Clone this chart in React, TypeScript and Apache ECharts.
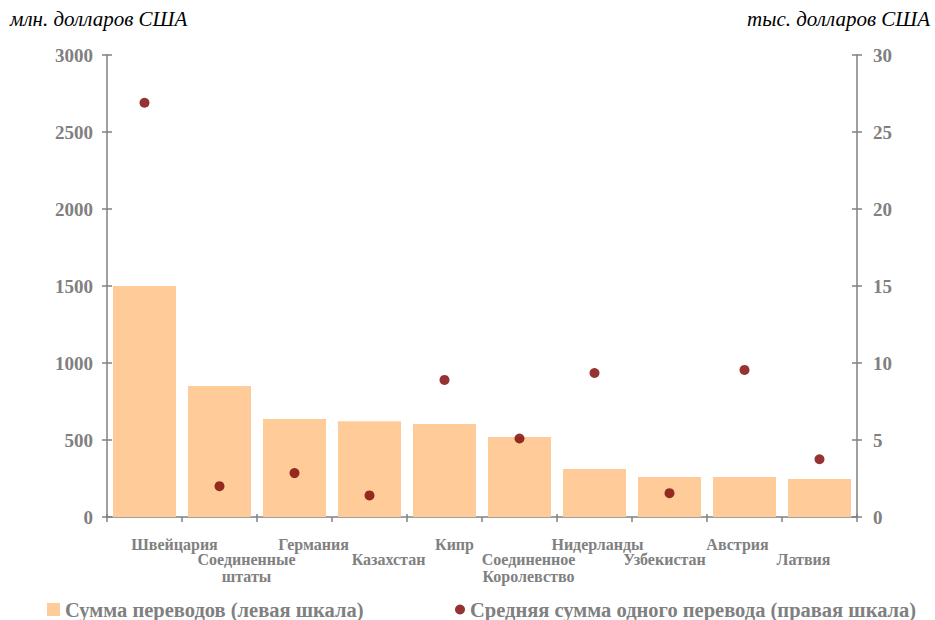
import React, { useEffect, useRef } from "react";
import * as echarts from "echarts";

const categories = [
  "Швейцария",
  "Соединенные\nштаты",
  "Германия",
  "Казахстан",
  "Кипр",
  "Соединенное\nКоролевство",
  "Нидерланды",
  "Узбекистан",
  "Австрия",
  "Латвия",
];
const transferSum = [1500, 850, 636, 622, 604, 519, 312, 260, 260, 247];
const avgTransfer = [26.9, 2.0, 2.85, 1.4, 8.9, 5.1, 9.35, 1.55, 9.55, 3.75];
const leftTicks = [0, 500, 1000, 1500, 2000, 2500, 3000];
const rightTicks = [0, 5, 10, 15, 20, 25, 30];

const seriesNames = [
  "Сумма переводов (левая шкала)",
  "Средняя сумма одного перевода (правая шкала)",
];
const unitLeft = "млн. долларов США";
const unitRight = "тыс. долларов США";

// horizontal label shifts (px) as in the reference
const labelShift = [30, 27, 19, 19, 10, 9, 3, -5, -7, -16];

const GREY = "#808080";
const FONT = "'Liberation Serif', 'Times New Roman', serif";

export default function App() {
  const ref = useRef<HTMLDivElement>(null);
  useEffect(() => {
    if (!ref.current) return;
    const chart = echarts.init(ref.current, undefined, { renderer: "svg" });
    const catData = categories.map((c, i) => {
      const d = labelShift[i];
      const top = i % 2 === 1 ? 15 : 0;
      return {
        value: c,
        textStyle: {
          padding: [top, d < 0 ? -2 * d : 0, 0, d > 0 ? 2 * d : 0],
        },
      };
    });
    const lMax = leftTicks[leftTicks.length - 1];
    const rMax = rightTicks[rightTicks.length - 1];
    const plain = (v: number) => String(v);
    const yBase = (min: number, max: number, interval: number, pos: string) => ({
      type: "value",
      position: pos,
      min,
      max,
      interval,
      splitLine: { show: false },
      axisLine: { show: true, lineStyle: { color: GREY, width: 1.5 } },
    });
    chart.setOption({
      animation: false,
      textStyle: { fontFamily: FONT },
      grid: { left: 107, right: 78, top: 55, bottom: 103, containLabel: false },
      graphic: [
        {
          type: "text",
          left: 10,
          top: 8,
          style: {
            text: unitLeft,
            font: `italic 21px ${FONT}`,
            fill: "#000",
          },
        },
        {
          type: "text",
          right: 5,
          top: 8,
          style: {
            text: unitRight,
            font: `italic 21px ${FONT}`,
            fill: "#000",
          },
        },
      ],
      legend: [
        {
          data: [seriesNames[0]],
          left: 47,
          top: 599,
          padding: 0,
          itemWidth: 13,
          itemHeight: 13,
          icon: "rect",
          textStyle: { color: GREY, fontWeight: "bold", fontSize: 20.5, fontFamily: FONT, padding: [0, 0, 0, 0] },
        },
        {
          data: [seriesNames[1]],
          left: 455,
          top: 599,
          padding: 0,
          itemWidth: 10,
          itemHeight: 10,
          icon: "circle",
          textStyle: { color: GREY, fontWeight: "bold", fontSize: 20.5, fontFamily: FONT, padding: [0, 0, 0, 0] },
        },
      ],
      xAxis: [
        {
          type: "category",
          data: catData,
          position: "bottom",
          axisLine: { show: true, lineStyle: { color: GREY, width: 1.5 } },
          axisTick: { show: true, length: 5, lineStyle: { color: GREY, width: 1.5 } },
          axisLabel: {
            interval: 0,
            margin: 19,
            color: GREY,
            fontWeight: "bold",
            fontSize: 16,
            lineHeight: 17,
            fontFamily: FONT,
            verticalAlign: "top",
          },
        },
        {
          type: "category",
          data: categories,
          position: "bottom",
          axisLine: { show: false },
          axisTick: { show: true, inside: true, length: 3, lineStyle: { color: GREY, width: 1.5 } },
          axisLabel: { show: false },
        },
      ],
      yAxis: [
        {
          ...yBase(0, lMax, 500, "left"),
          axisTick: { show: true, length: 5, lineStyle: { color: GREY, width: 1.5 } },
          axisLabel: {
            margin: 14,
            color: GREY,
            fontWeight: "bold",
            fontSize: 19,
            fontFamily: FONT,
            formatter: plain,
          },
        },
        {
          ...yBase(0, rMax, 5, "right"),
          axisTick: { show: true, length: 5, lineStyle: { color: GREY, width: 1.5 } },
          axisLabel: {
            margin: 16,
            color: GREY,
            fontWeight: "bold",
            fontSize: 19,
            fontFamily: FONT,
            formatter: plain,
          },
        },
        {
          ...yBase(0, lMax, 500, "left"),
          axisLine: { show: false },
          axisTick: { show: true, inside: true, length: 5, lineStyle: { color: GREY, width: 1.5 } },
          axisLabel: { show: false },
        },
        {
          ...yBase(0, rMax, 5, "right"),
          axisLine: { show: false },
          axisTick: { show: true, inside: true, length: 5, lineStyle: { color: GREY, width: 1.5 } },
          axisLabel: { show: false },
        },
      ],
      series: [
        {
          name: seriesNames[0],
          type: "bar",
          xAxisIndex: 0,
          yAxisIndex: 0,
          data: transferSum,
          barCategoryGap: "16%",
          itemStyle: { color: "#FFCC99" },
          z: 1,
        },
        {
          name: seriesNames[1],
          type: "scatter",
          xAxisIndex: 0,
          yAxisIndex: 1,
          data: avgTransfer,
          symbol: "circle",
          symbolSize: 10,
          itemStyle: { color: "#7A0000" },
          z: 3,
        },
      ],
    });
    return () => chart.dispose();
  }, []);
  return (
    <div
      ref={ref}
      style={{ position: "absolute", left: 0, top: 0, width: 935, height: 620, background: "#fff" }}
    />
  );
}
